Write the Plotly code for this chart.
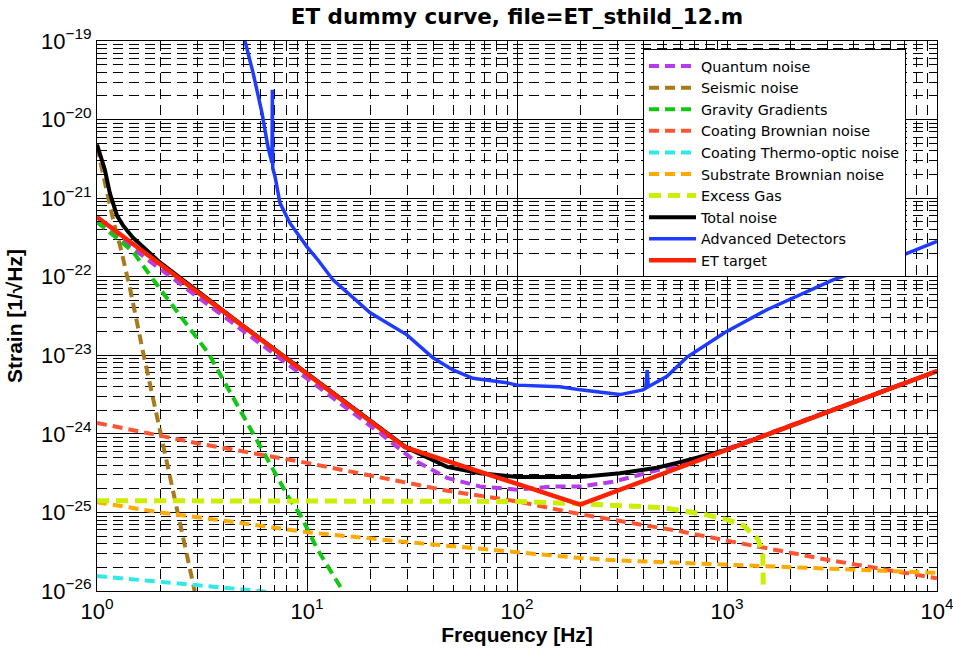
import plotly.graph_objects as go

# ---------------- data ----------------
freq_quantum = [1, 2, 5, 10, 22.3, 32, 46.5, 66.7, 100, 148, 200, 286, 385, 500, 700, 1000, 10000]
strain_quantum = [5.0e-22, 1.26e-22, 2.0e-23, 5.0e-24, 1.02e-24, 4.7e-25, 2.75e-25, 2.14e-25,
                  1.95e-25, 2.14e-25, 2.14e-25, 2.45e-25, 3.0e-25, 3.55e-25, 4.57e-25, 6.45e-25, 6.3e-24]

freq_seismic = [1.0, 1.1, 1.2, 1.3, 1.45, 1.66, 2.0, 2.4, 2.9, 3.2]
strain_seismic = [4.47e-21, 1.41e-21, 5.0e-22, 2.24e-22, 6.3e-23, 1.07e-23, 1.0e-24, 1.0e-25, 1.0e-26, 3.2e-27]

freq_gravity = [1, 1.2, 1.48, 1.93, 2.5, 3.4, 4.16, 6, 8.3, 9.3, 11.2, 15, 17]
strain_gravity = [5.0e-22, 3.3e-22, 2.1e-22, 7.9e-23, 3.2e-23, 1.05e-23, 3.98e-24, 6.8e-25,
                  1.45e-25, 9.3e-26, 3.4e-26, 9.5e-27, 5.0e-27]

freq_coating = [1, 3, 10, 22, 46, 100, 200, 600, 1000, 3000, 10000]
strain_coating = [1.38e-24, 7.6e-25, 4.27e-25, 2.82e-25, 1.9e-25, 1.38e-25, 9.5e-26, 5.75e-26,
                  4.37e-26, 2.5e-26, 1.45e-26]

freq_thermo = [1, 2, 3, 6, 10]
strain_thermo = [1.55e-26, 1.32e-26, 1.17e-26, 1.0e-26, 7.9e-27]

freq_substrate = [1, 2, 4.4, 10, 28, 100, 200, 300, 1000, 3000, 10000]
strain_substrate = [1.35e-25, 1.0e-25, 7.6e-26, 5.6e-26, 4.27e-26, 3.1e-26, 2.63e-26, 2.45e-26,
                    2.14e-26, 1.9e-26, 1.7e-26]

freq_gas = [1, 100, 200, 300, 500, 800, 1000, 1200, 1400, 1480, 1500]
strain_gas = [1.41e-25, 1.38e-25, 1.29e-25, 1.23e-25, 1.15e-25, 9.3e-26, 8.1e-26, 6.8e-26,
              4.6e-26, 3.2e-26, 2.5e-27]

freq_total = [1, 1.09, 1.15, 1.245, 1.33, 1.48, 2, 3, 5, 10, 20, 30, 46.5, 66.7, 100, 200,
              309, 464, 597, 800, 1000, 10000]
strain_total = [4.8e-21, 2.3e-21, 1.17e-21, 6.0e-22, 4.5e-22, 3.16e-22, 1.51e-22, 6.6e-23,
                2.34e-23, 5.9e-24, 1.48e-24, 6.6e-25, 3.8e-25, 3.16e-25, 2.82e-25, 2.82e-25,
                3.16e-25, 3.7e-25, 4.37e-25, 5.4e-25, 6.3e-25, 6.3e-24]

freq_adv = [4.9, 5.07, 5.54, 6.11, 6.52, 6.81, 6.84, 6.87, 7.05, 7.43, 8.3, 10, 11.3, 13.3, 20,
            29.9, 39.8, 49.5, 61.7, 89.5, 100, 160, 200, 248, 309, 398, 410, 417, 422, 518, 646,
            977, 1549, 3199, 5970, 10000]
strain_adv = [1.41e-19, 9.8e-20, 3.9e-20, 1.2e-20, 4.47e-21, 2.82e-21, 2.4e-20, 2.4e-21, 1.86e-21,
              8.7e-22, 4.8e-22, 2.4e-22, 1.62e-22, 9.1e-23, 3.47e-23, 1.82e-23, 9.3e-24, 6.5e-24,
              5.1e-24, 4.47e-24, 4.17e-24, 3.98e-24, 3.63e-24, 3.39e-24, 3.16e-24, 3.63e-24,
              3.8e-24, 6.5e-24, 3.98e-24, 5.4e-24, 9.5e-24, 1.95e-23, 3.8e-23, 9.1e-23, 1.62e-22,
              2.82e-22]

freq_target = [1, 29.3, 200, 10000]
strain_target = [5.75e-22, 6.76e-25, 1.26e-25, 6.3e-24]

x_tickvals = [1, 10, 100, 1000, 10000]
x_ticktext = ["10<sup>0</sup>", "10<sup>1</sup>", "10<sup>2</sup>", "10<sup>3</sup>", "10<sup>4</sup>"]
y_tickvals = [1e-26, 1e-25, 1e-24, 1e-23, 1e-22, 1e-21, 1e-20, 1e-19]
y_ticktext = ["10<sup>\u221226</sup>", "10<sup>\u221225</sup>", "10<sup>\u221224</sup>",
              "10<sup>\u221223</sup>", "10<sup>\u221222</sup>", "10<sup>\u221221</sup>",
              "10<sup>\u221220</sup>", "10<sup>\u221219</sup>"]

# ---------------- figure ----------------
DASH = "10px,6px"
series = [
    ("Quantum noise", freq_quantum, strain_quantum, "#B53CEB", 4, DASH),
    ("Seismic noise", freq_seismic, strain_seismic, "#A87A1C", 4, DASH),
    ("Gravity Gradients", freq_gravity, strain_gravity, "#10C810", 4, DASH),
    ("Coating Brownian noise", freq_coating, strain_coating, "#FF5533", 4, DASH),
    ("Coating Thermo-optic noise", freq_thermo, strain_thermo, "#30E8E8", 4, DASH),
    ("Substrate Brownian noise", freq_substrate, strain_substrate, "#FFAA00", 4, DASH),
    ("Excess Gas", freq_gas, strain_gas, "#CCEE00", 5, "12px,7px"),
    ("Total noise", freq_total, strain_total, "#000000", 4, "solid"),
    ("Advanced Detectors", freq_adv, strain_adv, "#1F3BFF", 3.5, "solid"),
    ("ET target", freq_target, strain_target, "#FF2200", 4.5, "solid"),
]

fig = go.Figure()
for name, fx, fy, color, width, dash in series:
    fig.add_trace(go.Scatter(x=fx, y=fy, mode="lines", name=name,
                             line=dict(color=color, width=width, dash=dash)))

minor_x = [m * 10 ** e for e in range(0, 4) for m in range(2, 10)]
minor_y = [m * 10.0 ** e for e in range(-26, -19) for m in range(2, 10)]

axis_common = dict(
    type="log",
    showline=True, linecolor="black", linewidth=1.2, mirror="allticks",
    ticks="inside", ticklen=8, tickcolor="black", tickwidth=1,
    showgrid=True, gridcolor="black", gridwidth=1.2,
    zeroline=False,
    tickmode="array",
    ticklabeloverflow="allow",
    automargin=False,
    tickfont=dict(family="Liberation Sans, Arial, sans-serif", size=22, color="black"),
)

fig.update_xaxes(
    **axis_common,
    range=[0, 4],
    tickvals=x_tickvals, ticktext=x_ticktext,
    minor=dict(tickmode="array", tickvals=minor_x, ticks="inside", ticklen=4,
               tickcolor="black", showgrid=True, gridcolor="black", gridwidth=1,
               griddash="10px,6px"),
    title=dict(text="Frequency [Hz]", standoff=2,
               font=dict(family="Liberation Sans, Arial, sans-serif", size=21, color="black",
                         weight="bold")),
)
fig.update_yaxes(
    **axis_common,
    range=[-26, -19],
    tickvals=y_tickvals, ticktext=y_ticktext,
    minor=dict(tickmode="array", tickvals=minor_y, ticks="inside", ticklen=4,
               tickcolor="black", showgrid=True, gridcolor="black", gridwidth=1,
               griddash="10px,6px"),
    title=dict(text="Strain [1/\u221aHz]", standoff=12,
               font=dict(family="Liberation Sans, Arial, sans-serif", size=21, color="black",
                         weight="bold")),
)

fig.update_layout(
    width=953, height=657, autosize=False,
    margin=dict(l=97, r=16, t=41, b=66, autoexpand=False),
    paper_bgcolor="white", plot_bgcolor="white",
    title=dict(text="ET dummy curve, file=ET_sthild_12.m",
               x=0.5, xref="paper", xanchor="center",
               y=1 - 16 / 657, yref="container", yanchor="middle",
               font=dict(family="DejaVu Sans, sans-serif", size=21.5, color="black",
                         weight="bold")),
    legend=dict(x=(643 - 97) / 840, y=0.985, xanchor="left", yanchor="top",
                bgcolor="white", bordercolor="black", borderwidth=1,
                itemwidth=47, entrywidth=278, entrywidthmode="pixels",
                font=dict(family="DejaVu Sans, sans-serif", size=14.3, color="black")),
    showlegend=True,
)

fig.write_html("out.html")
